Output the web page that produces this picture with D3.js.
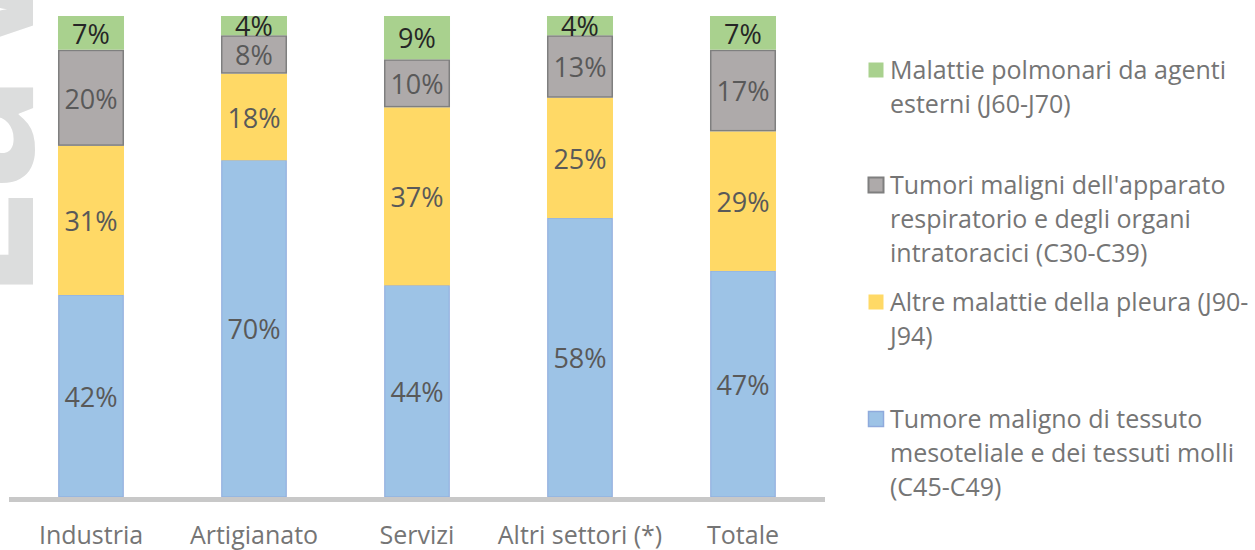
<!DOCTYPE html>
<html><head><meta charset="utf-8">
<script src="https://cdn.jsdelivr.net/npm/d3@7"></script>
<style>body{margin:0;background:#fff;}svg{display:block;font-family:"Open Sans",sans-serif;}</style>
</head><body>
<svg id="c" width="1255" height="550"></svg>
<script>
const categories = ["Industria","Artigianato","Servizi","Altri settori (*)","Totale"];
const tumoreMesoteliale = [42,70,44,58,47];
const altrePleura = [31,18,37,25,29];
const tumoriRespiratori = [20,8,10,13,17];
const malattiePolmonari = [7,4,9,4,7];
const seriesNames = [
  ["Tumore maligno di tessuto","mesoteliale e dei tessuti molli","(C45-C49)"],
  ["Altre malattie della pleura (J90-","J94)"],
  ["Tumori maligni dell'apparato","respiratorio e degli organi","intratoracici (C30-C39)"],
  ["Malattie polmonari da agenti","esterni (J60-J70)"]
];
const series = [tumoreMesoteliale, altrePleura, tumoriRespiratori, malattiePolmonari];
const fills = ["#9dc3e6","#ffd966","#aeaaaa","#a9d18e"];
const strokes = ["#8faadc","none","#7f7f7f","none"];
const labelColors = ["#595959","#595959","#595959","#262626"];

const svg = d3.select("#c");
// watermark
svg.append("text").attr("transform","translate(33,302) rotate(-90)")
  .attr("font-size",196).attr("font-weight",700).attr("fill","#dcdddd").text("LaV");

const x = d3.scaleBand().domain(categories).range([9.5,824.5]).paddingInner(0.595).paddingOuter(0.2975);
const y = d3.scaleLinear().domain([0,100]).range([497,16]);

const rows = categories.map((c,i)=>{const o={cat:c}; series.forEach((s,k)=>o["s"+k]=s[i]); return o;});
const stack = d3.stack().keys(series.map((_,k)=>"s"+k))(rows);

const g = svg.append("g");
stack.forEach((layer,k)=>{
  const lg = g.append("g");
  lg.selectAll("rect").data(layer).join("rect")
    .attr("x",d=>x(d.data.cat)+(strokes[k]!=="none"?0.75:0))
    .attr("width",x.bandwidth()-(strokes[k]!=="none"?1.5:0))
    .attr("y",d=>y(d[1])+(k===2?0.75:0))
    .attr("height",d=>y(d[0])-y(d[1])-(k===2?1.5:0))
    .attr("fill",fills[k]).attr("stroke",strokes[k]).attr("stroke-width",k===2?1.5:1);
});
stack.forEach((layer,k)=>{
  g.append("g").selectAll("text").data(layer).join("text")
    .attr("x",d=>x(d.data.cat)+x.bandwidth()/2)
    .attr("y",d=>(y(d[0])+y(d[1]))/2)
    .attr("dy","0.4em").attr("text-anchor","middle")
    .attr("font-size",27).attr("fill",labelColors[k])
    .text(d=>(d[1]-d[0])+"%");
});

// axis
const ax = svg.append("g").attr("transform","translate(0,499.5)");
ax.call(d3.axisBottom(x).tickSize(0).tickPadding(27));
ax.select(".domain").attr("stroke","#c8c8c8").attr("stroke-width",5).attr("d","M9,0H825");
ax.selectAll("text").attr("font-size",25).attr("fill","#757575").attr("font-family","Open Sans, sans-serif");

// legend (top to bottom: green, grey, yellow, blue)
const legendOrder = [3,2,1,0];
const legendTop = [79,194,311,428];
const lgd = svg.append("g");
legendOrder.forEach((k,i)=>{
  const by = legendTop[i];
  lgd.append("rect").attr("x",868.5).attr("y",by-16.5).attr("width",15).attr("height",15)
    .attr("fill",fills[k]).attr("stroke",(k===3||k===1)?"none":strokes[k]).attr("stroke-width",k===2?2:1.5);
  const t = lgd.append("text").attr("x",890).attr("y",by).attr("font-size",25).attr("fill","#757575");
  seriesNames[k].forEach((line,j)=>t.append("tspan").attr("x",890).attr("y",by+j*34).text(line));
});
</script>
</body></html>
